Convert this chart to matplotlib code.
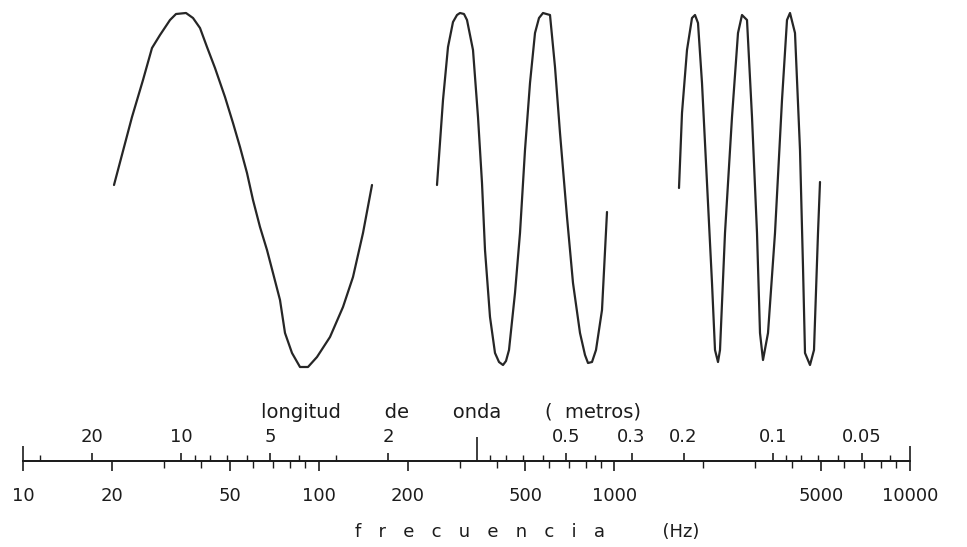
import numpy as np
import matplotlib
matplotlib.use('Agg')
import matplotlib.pyplot as plt
from matplotlib.ticker import FixedLocator, LogLocator, NullFormatter, FuncFormatter

plt.rcParams['font.family'] = 'DejaVu Sans'

# trazos de las tres ondas: posicion horizontal y altura sobre la linea media
onda1_x = [114, 132, 143, 152, 160, 170, 176, 186, 193, 200, 207, 215, 225, 233,
           240, 247, 253, 260, 267, 273, 280, 285, 292, 300, 308, 317, 330, 343,
           353, 363, 372]
onda1_y = [5, 73, 110, 142, 155, 170, 176, 177, 172, 162, 143, 122, 93, 67,
           43, 17, -10, -37, -60, -83, -110, -143, -163, -177, -177, -167, -147,
           -117, -87, -43, 5]

onda2_x = [437, 443, 448, 453, 457, 460, 464, 467, 473, 478, 482, 485, 490, 495,
           499, 503, 506, 509, 515, 520, 525, 530, 535, 539, 543, 550, 555, 560,
           567, 573, 580, 585, 588, 592, 596, 602, 607]
onda2_y = [5, 90, 143, 168, 175, 177, 176, 170, 140, 73, 7, -60, -127, -163,
           -172, -175, -171, -160, -103, -43, 40, 107, 157, 172, 177, 175, 123, 57,
           -27, -93, -143, -165, -173, -172, -160, -120, -22]

onda3_x = [679, 682, 687, 692, 695, 698, 702, 707, 712, 715, 718, 720, 725, 732,
           738, 742, 747, 752, 757, 760, 763, 768, 775, 782, 787, 790, 795, 800,
           803, 805, 810, 814, 818, 820]
onda3_y = [2, 77, 140, 172, 175, 167, 107, 7, -93, -160, -172, -160, -43, 73,
           157, 175, 170, 73, -43, -143, -170, -143, -43, 90, 170, 177, 157, 40,
           -77, -163, -175, -160, -43, 8]

# escalas
frecuencias = [10, 20, 50, 100, 200, 500, 1000, 5000, 10000]   # Hz
longitudes = [20, 10, 5, 2, 0.5, 0.3, 0.2, 0.1, 0.05]          # metros
c_sonido = 343.0  # m/s

ink = '#1c1c1c'


def a_longitud(f):
    f = np.asarray(f, dtype=float)
    with np.errstate(divide='ignore', invalid='ignore'):
        return c_sonido / f


def etiqueta(v, pos, lista):
    for l in lista:
        if abs(v - l) < 1e-6 * l:
            return f'{l:g}'
    return ''


fig = plt.figure(figsize=(9.67, 5.47), dpi=100)

# ondas
ax_w = fig.add_axes([0, 1 - 375 / 547, 1, 370 / 547])
for xs, ys in [(onda1_x, onda1_y), (onda2_x, onda2_y), (onda3_x, onda3_y)]:
    ax_w.plot(xs, ys, color='#262626', lw=1.6, solid_joinstyle='round',
              solid_capstyle='round')
ax_w.set_xlim(0, 967)
ax_w.set_ylim(-185, 185)
ax_w.axis('off')

# eje de frecuencia
ax = fig.add_axes([23 / 967, 1 - 461 / 547, 887 / 967, 0.2])
ax.set_xscale('log')
ax.set_xlim(10, 10000)
ax.set_yticks([])
for s in ['top', 'left', 'right']:
    ax.spines[s].set_visible(False)
ax.patch.set_visible(False)
ax.spines['bottom'].set_linewidth(1.3)
ax.spines['bottom'].set_color(ink)
ax.xaxis.set_major_locator(FixedLocator(frecuencias))
ax.xaxis.set_major_formatter(FuncFormatter(lambda v, p: etiqueta(v, p, frecuencias)))
ax.xaxis.set_minor_locator(LogLocator(subs=range(2, 10)))
ax.xaxis.set_minor_formatter(NullFormatter())
ax.tick_params(axis='x', which='major', length=7, width=1.2, pad=12,
               labelsize=13, colors=ink)
ax.tick_params(axis='x', which='minor', length=5, width=1.0, colors=ink)
ax.set_xlabel('f   r   e   c   u   e   n   c   i   a          (Hz)', fontsize=13,
              color=ink)
ax.xaxis.set_label_coords(0.568, -0.57)

# eje de longitud de onda (arriba de la misma linea)
secax = ax.secondary_xaxis(0, functions=(a_longitud, a_longitud))
secax.set_alignment('top')
secax.spines['top'].set_linewidth(1.3)
secax.spines['top'].set_color(ink)
marcas = longitudes + [1, c_sonido / frecuencias[0], c_sonido / frecuencias[-1]]
secax.xaxis.set_major_locator(FixedLocator(marcas))
secax.xaxis.set_major_formatter(FuncFormatter(lambda v, p: etiqueta(v, p, longitudes)))
secax.xaxis.set_minor_locator(LogLocator(subs=range(2, 10)))
secax.xaxis.set_minor_formatter(NullFormatter())
secax.tick_params(axis='x', which='major', length=6, width=1.2, pad=5,
                  labelsize=13, colors=ink)
secax.tick_params(axis='x', which='minor', length=4, width=1.0, colors=ink)
ticks = secax.xaxis.get_major_ticks(len(marcas))
ticks[-3].tick2line.set_markersize(17)
ticks[-2].tick2line.set_markersize(11)
ticks[-1].tick2line.set_markersize(11)

secax.set_xlabel('longitud       de       onda       (  metros)', fontsize=14,
                 color=ink)
secax.xaxis.set_label_coords(0.483, 0.39, transform=ax.transAxes)

fig.savefig('out.png', dpi=100, facecolor='white')
